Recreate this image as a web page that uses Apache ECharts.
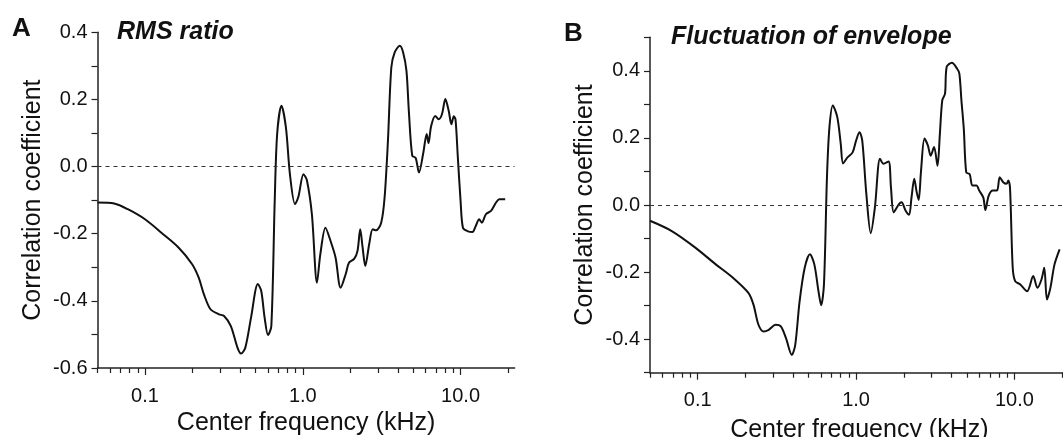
<!DOCTYPE html>
<html>
<head>
<meta charset="utf-8">
<script src="https://cdn.jsdelivr.net/npm/echarts@6/dist/echarts.min.js"></script>
<style>
  html, body { margin: 0; padding: 0; background: #fff; }
  #main { width: 1063px; height: 437px; }
</style>
</head>
<body>
<div id="main"></div>
<script>
// panel A: RMS ratio
const freqA = [0.05, 0.0638, 0.0778, 0.1, 0.127, 0.163, 0.199, 0.219, 0.236, 0.26, 0.294, 0.317, 0.35, 0.386, 0.406, 0.432, 0.47, 0.519, 0.545, 0.573, 0.602, 0.632, 0.664, 0.688, 0.733, 0.782, 0.829, 0.893, 0.938, 1.01, 1.061, 1.142, 1.23, 1.292, 1.392, 1.498, 1.613, 1.737, 1.871, 1.965, 2.116, 2.223, 2.312, 2.393, 2.49, 2.64, 2.775, 2.915, 3.14, 3.3, 3.465, 3.64, 3.823, 4.118, 4.325, 4.54, 4.7, 4.94, 5.19, 5.45, 5.81, 6.1, 6.26, 6.51, 6.91, 7.26, 7.62, 8.01, 8.41, 8.75, 9.06, 9.29, 9.61, 10.0, 10.35, 11.04, 11.89, 12.48, 13.11, 13.64, 14.47, 15.59, 16.78, 17.63, 19.18]
const corrA = [-0.107, -0.11, -0.127, -0.157, -0.197, -0.241, -0.291, -0.331, -0.38, -0.425, -0.44, -0.445, -0.475, -0.54, -0.557, -0.54, -0.45, -0.35, -0.37, -0.45, -0.502, -0.475, -0.102, 0.097, 0.181, 0.116, -0.023, -0.112, -0.09, -0.023, -0.04, -0.142, -0.346, -0.261, -0.182, -0.221, -0.271, -0.361, -0.32, -0.286, -0.275, -0.251, -0.187, -0.24, -0.296, -0.229, -0.187, -0.19, -0.167, -0.092, 0.077, 0.295, 0.34, 0.36, 0.34, 0.285, 0.166, 0.032, 0.026, -0.018, 0.042, 0.097, 0.07, 0.121, 0.151, 0.141, 0.156, 0.201, 0.166, 0.126, 0.15, 0.14, 0.027, -0.102, -0.182, -0.192, -0.195, -0.177, -0.157, -0.167, -0.142, -0.132, -0.107, -0.097, -0.097]

// panel B: fluctuation of envelope
const freqB = [0.05, 0.0682, 0.0966, 0.13, 0.167, 0.209, 0.225, 0.242, 0.261, 0.281, 0.311, 0.335, 0.361, 0.393, 0.413, 0.44, 0.474, 0.511, 0.545, 0.579, 0.602, 0.627, 0.655, 0.679, 0.713, 0.761, 0.8, 0.828, 0.883, 0.951, 1.0, 1.051, 1.094, 1.161, 1.238, 1.315, 1.416, 1.489, 1.604, 1.661, 1.728, 1.862, 1.937, 2.056, 2.162, 2.238, 2.33, 2.41, 2.485, 2.571, 2.704, 2.842, 2.957, 3.108, 3.266, 3.382, 3.501, 3.644, 3.735, 4.026, 4.337, 4.488, 4.625, 4.788, 4.961, 5.213, 5.424, 5.755, 5.99, 6.36, 6.55, 6.88, 7.31, 7.76, 8.07, 8.49, 8.92, 9.14, 9.37, 9.75, 10.1, 10.88, 12.02, 13.14, 13.95, 14.81, 15.42, 16.04, 16.86, 17.9, 19.28]
const corrB = [-0.047, -0.077, -0.127, -0.177, -0.217, -0.262, -0.297, -0.357, -0.377, -0.372, -0.357, -0.362, -0.397, -0.447, -0.417, -0.287, -0.187, -0.147, -0.177, -0.257, -0.299, -0.237, 0.083, 0.232, 0.297, 0.262, 0.183, 0.124, 0.142, 0.157, 0.192, 0.217, 0.192, 0.033, -0.084, -0.007, 0.138, 0.123, 0.13, 0.052, -0.022, 0.002, 0.008, -0.017, -0.029, 0.022, 0.078, 0.04, 0.015, 0.102, 0.198, 0.177, 0.147, 0.173, 0.117, 0.213, 0.312, 0.332, 0.412, 0.424, 0.407, 0.392, 0.312, 0.227, 0.097, 0.092, 0.058, 0.058, 0.043, 0.022, -0.015, 0.028, 0.043, 0.043, 0.083, 0.068, 0.063, 0.073, 0.053, -0.187, -0.227, -0.237, -0.257, -0.212, -0.247, -0.222, -0.187, -0.282, -0.247, -0.177, -0.132]

// axis ticks
const majorTicks = [0.1, 1, 10]
const minorTicks = [0.05, 0.06, 0.07, 0.08, 0.09, 0.2, 0.3, 0.4, 0.5, 0.6, 0.7, 0.8, 0.9, 2, 3, 4, 5, 6, 7, 8, 9, 20]

const FONT = "'Liberation Sans', Arial, sans-serif"
const INK = '#111'

function pairs(xs, ys) {
  return xs.map((x, i) => [x, ys[i]])
}

// minor ticks axis + major ticks/labels axis, both at the bottom of one grid
function xAxes(grid, nameGap) {
  return [
    {
      type: 'log', logBase: 10, gridIndex: grid, position: 'bottom',
      min: 0.05, max: 22,
      axisLine: { show: true, onZero: false, lineStyle: { color: '#222', width: 1.5 } },
      axisTick: { show: true, inside: false, length: 5, customValues: minorTicks, lineStyle: { color: '#222', width: 1.2 } },
      axisLabel: { show: false },
      splitLine: { show: false }
    },
    {
      type: 'log', logBase: 10, gridIndex: grid, position: 'bottom',
      min: 0.05, max: 22,
      axisLine: { show: false, onZero: false },
      axisTick: { show: true, inside: false, length: 7, customValues: majorTicks, lineStyle: { color: '#222', width: 1.2 } },
      axisLabel: {
        show: true, customValues: majorTicks, margin: 18,
        fontSize: 20, fontFamily: FONT, color: INK,
        formatter: function (v) { return Number(v).toFixed(1) }
      },
      splitLine: { show: false },
      name: 'Center frequency (kHz)',
      nameLocation: 'middle',
      nameGap: nameGap,
      nameTextStyle: { fontSize: 25, fontFamily: FONT, color: INK }
    }
  ]
}

function yAxis(grid, min, max) {
  return {
    type: 'value', gridIndex: grid,
    min: min, max: max, interval: 0.1,
    axisLine: { show: true, onZero: false, lineStyle: { color: '#222', width: 1.5 } },
    axisTick: { show: true, inside: false, length: 6, lineStyle: { color: '#222', width: 1.2 } },
    axisLabel: {
      margin: 10, fontSize: 20, fontFamily: FONT, color: INK,
      formatter: function (v) {
        const k = Math.round(v * 10)
        return k % 2 === 0 ? (k / 10).toFixed(1) : ''
      }
    },
    splitLine: { show: false },
    name: 'Correlation coefficient',
    nameLocation: 'middle',
    nameRotate: 90,
    nameGap: 52,
    nameTextStyle: { fontSize: 25, fontFamily: FONT, color: INK }
  }
}

function curve(xIdx, yIdx, data) {
  return {
    type: 'line',
    xAxisIndex: xIdx, yAxisIndex: yIdx,
    data: data,
    showSymbol: false,
    smooth: 0.3,
    lineStyle: { color: INK, width: 2 },
    markLine: {
      silent: true,
      symbol: ['none', 'none'],
      label: { show: false },
      lineStyle: { color: '#333', width: 1, type: [4, 4] },
      data: [{ yAxis: 0 }]
    }
  }
}

const chart = echarts.init(document.getElementById('main'), null, { renderer: 'canvas' })
const option = {
  animation: false,
  backgroundColor: '#fff',
  title: [
    { text: 'A', left: 12, top: 16, padding: 0, textStyle: { fontSize: 26, fontWeight: 'bold', fontFamily: FONT, color: INK } },
    { text: 'RMS ratio', left: 117, top: 20, padding: 0, textStyle: { fontSize: 25, fontWeight: 'bold', fontStyle: 'italic', fontFamily: FONT, color: INK } },
    { text: 'B', left: 564, top: 21, padding: 0, textStyle: { fontSize: 26, fontWeight: 'bold', fontFamily: FONT, color: INK } },
    { text: 'Fluctuation of envelope', left: 671, top: 25, padding: 0, textStyle: { fontSize: 25, fontWeight: 'bold', fontStyle: 'italic', fontFamily: FONT, color: INK } }
  ],
  grid: [
    { left: 97.5, right: 548.4, top: 32.3, bottom: 69, containLabel: false, outerBoundsMode: 'none' },
    { left: 650, right: -5.7, top: 37.3, bottom: 64.3, containLabel: false, outerBoundsMode: 'none' }
  ],
  xAxis: xAxes(0, 43).concat(xAxes(1, 45)),
  yAxis: [yAxis(0, -0.6, 0.4), yAxis(1, -0.5, 0.5)],
  series: [
    curve(0, 0, pairs(freqA, corrA)),
    curve(2, 1, pairs(freqB, corrB))
  ]
}
chart.setOption(option)
</script>
</body>
</html>
